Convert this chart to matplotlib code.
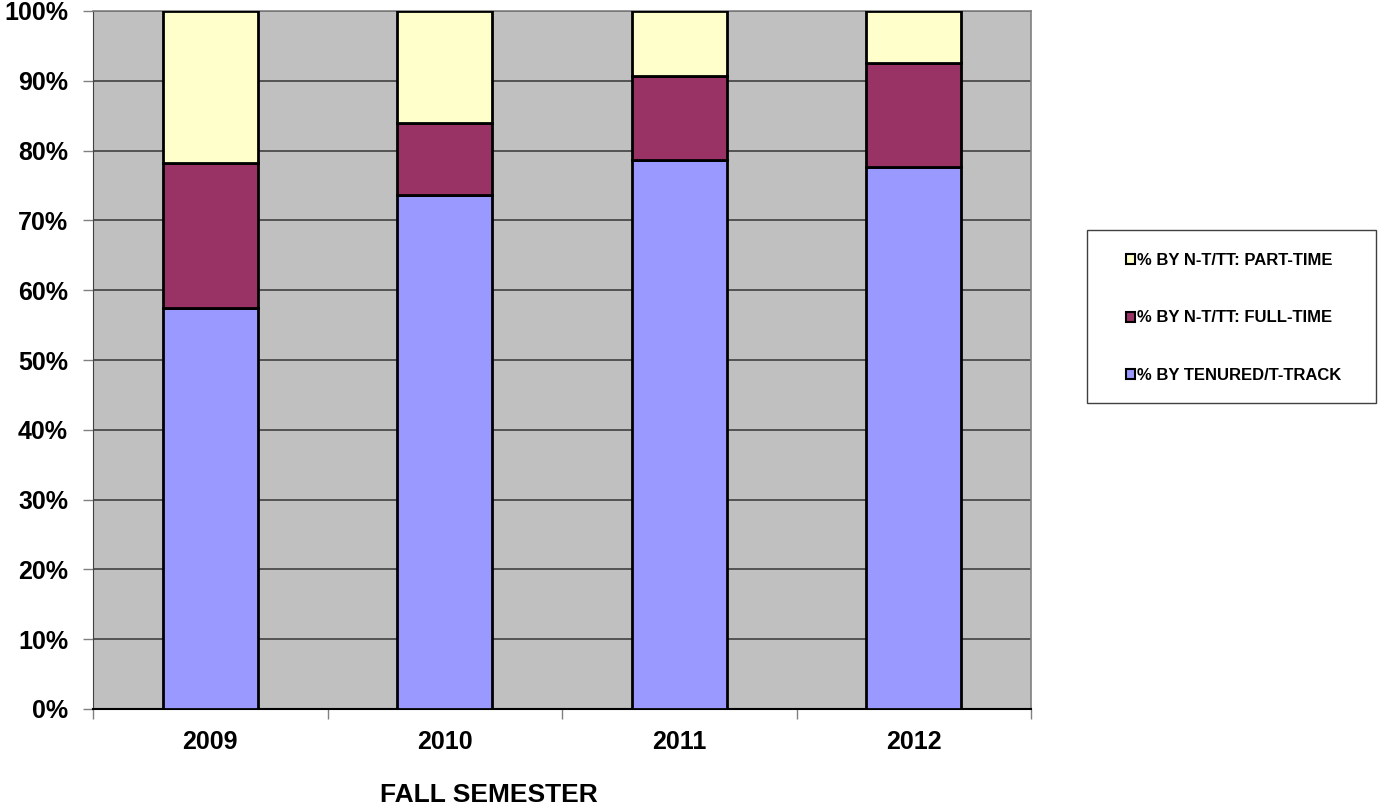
import matplotlib
matplotlib.use("Agg")
import matplotlib.pyplot as plt
from matplotlib.patches import Patch, Rectangle
import numpy as np

plt.rcParams['font.family'] = ['Liberation Sans', 'DejaVu Sans']

years = ["2009", "2010", "2011", "2012"]
tenured = [57.4, 73.7, 78.6, 77.7]
full_time = [20.8, 10.3, 12.1, 14.8]
part_time = [21.8, 16.0, 9.3, 7.5]

labels = ["% BY TENURED/T-TRACK", "% BY N-T/TT: FULL-TIME", "% BY N-T/TT: PART-TIME"]
colors = ["#9999FF", "#993366", "#FFFFCC"]

W, H = 1378, 809
fig = plt.figure(figsize=(W / 100, H / 100), dpi=100)
ax = fig.add_axes([93 / W, 100 / H, (1031 - 93) / W, (709 - 11) / H])
ax.set_facecolor("#C0C0C0")

x = np.arange(len(years))
w = 0.405
bottom = np.zeros(len(years))
for vals, c in zip([tenured, full_time, part_time], colors):
    ax.bar(x, vals, w, bottom=bottom, color=c, edgecolor="black", linewidth=2, zorder=3)
    bottom += np.array(vals)

ax.set_xlim(-0.5, len(years) - 0.5)
ax.set_ylim(0, 100)
ax.set_yticks(np.arange(0, 101, 10))
ax.set_yticklabels([f"{v}%" for v in range(0, 101, 10)], fontsize=18, fontweight="bold")
ax.yaxis.grid(True, color="#404040", linewidth=1.2, zorder=1)
ax.set_axisbelow(True)

ax.set_xticks(x)
ax.set_xticklabels(years, fontsize=18, fontweight="bold")
ax.tick_params(axis="x", which="major", length=0, pad=15)
ax.set_xticks(np.arange(-0.5, len(years), 1), minor=True)
ax.tick_params(axis="x", which="minor", length=7, color="#808080", width=1)
ax.tick_params(axis="y", length=7, color="#808080", width=1, pad=11)

for s in ["top", "right"]:
    ax.spines[s].set_color("#808080")
    ax.spines[s].set_linewidth(1.2)
ax.spines["left"].set_color("#404040")
ax.spines["bottom"].set_color("black")
ax.spines["bottom"].set_linewidth(1.5)

fig.text(489 / W, 1 - 795 / H, "FALL SEMESTER", fontsize=19, fontweight="bold",
         ha="center", va="center")

# legend box
fig.add_artist(Rectangle((1087 / W, 1 - 403 / H), (1376 - 1087) / W, (403 - 230) / H,
                         transform=fig.transFigure, facecolor="white",
                         edgecolor="#404040", linewidth=1))
handles = [Patch(facecolor=c, edgecolor="black", linewidth=1.5) for c in colors]
leg = fig.legend(handles[::-1], labels[::-1], loc="upper left",
                 bbox_to_anchor=(1126 / W, 1 - 253 / H),
                 prop={"weight": "bold", "size": 12},
                 frameon=False, handlelength=0.55, handleheight=0.55,
                 handletextpad=0.12, labelspacing=2.55, borderpad=0, borderaxespad=0)

fig.savefig("out.png", dpi=100)
